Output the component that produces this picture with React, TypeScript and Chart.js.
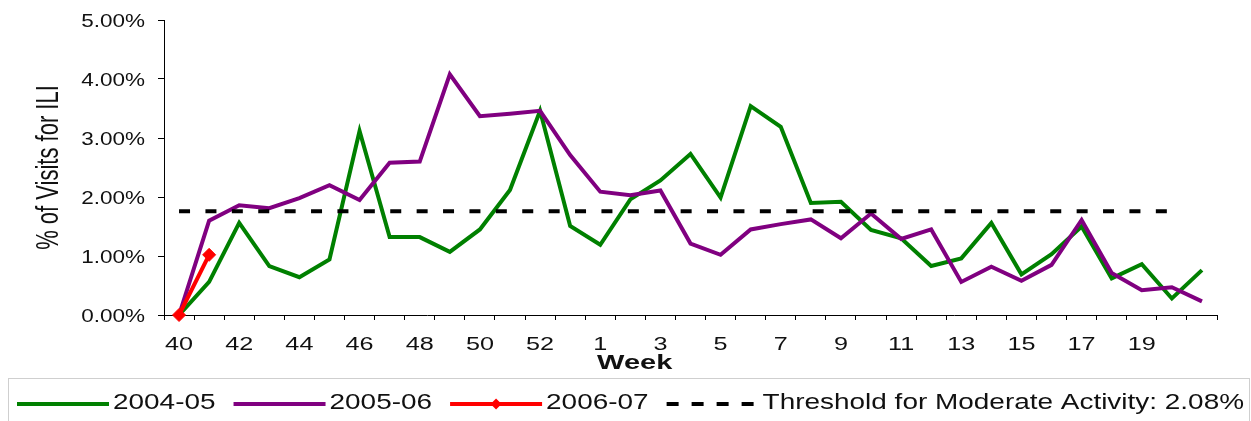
import React, { useEffect, useRef } from 'react';
import { Chart, registerables } from 'chart.js';

Chart.register(...registerables);

const FONT = '"Liberation Sans", Arial, Helvetica, sans-serif';
const TEXT_COLOR = '#111111';

// Week categories (2004 had a week 53)
const weeks = [
  '40', '41', '42', '43', '44', '45', '46', '47', '48', '49', '50', '51', '52', '53',
  '1', '2', '3', '4', '5', '6', '7', '8', '9', '10', '11', '12', '13', '14', '15', '16',
  '17', '18', '19', '20', '21',
];

// % of visits for ILI
const season2004 = [
  0.0, 0.56, 1.56, 0.83, 0.64, 0.94, 3.12, 1.32, 1.32, 1.07, 1.45, 2.12, 3.46, 1.51,
  1.19, 1.96, 2.28, 2.73, 1.99, 3.54, 3.19, 1.9, 1.92, 1.44, 1.3, 0.83, 0.96, 1.56, 0.69, 1.03,
  1.5, 0.62, 0.86, 0.28, 0.76,
];
const season2005 = [
  0.0, 1.6, 1.86, 1.81, 1.98, 2.2, 1.95, 2.58, 2.6, 4.08, 3.37, 3.41, 3.46, 2.71,
  2.09, 2.03, 2.11, 1.21, 1.02, 1.45, 1.54, 1.62, 1.3, 1.72, 1.29, 1.45, 0.56, 0.82, 0.58, 0.85,
  1.61, 0.71, 0.42, 0.47, 0.23,
];
const season2006 = [0.0, 1.02];

const THRESHOLD = 1.76;
const THRESHOLD_LAST_WEEK = '20';

const seriesLabels = ['2004-05', '2005-06', '2006-07', 'Threshold for Moderate Activity: 2.08%'];
const seriesColors = ['#008000', '#800080', '#ff0000', '#000000'];

const yTitle = '% of Visits for ILI';
const xTitle = 'Week';
const Y_MIN = 0;
const Y_MAX = 5;
const Y_STEP = 1;

const thresholdEnd = weeks.indexOf(THRESHOLD_LAST_WEEK);
const thresholdData = weeks.map((_, i) => (i <= thresholdEnd ? THRESHOLD : null));

function stretchedText(
  ctx: CanvasRenderingContext2D,
  text: string,
  x: number,
  y: number,
  sx: number,
  align: CanvasTextAlign,
) {
  ctx.save();
  ctx.translate(x, y);
  ctx.scale(sx, 1);
  ctx.textAlign = align;
  ctx.textBaseline = 'alphabetic';
  ctx.fillText(text, 0, 0);
  ctx.restore();
}

const textPlugin = {
  id: 'customText',
  afterDraw(chart: any) {
    const ctx: CanvasRenderingContext2D = chart.ctx;
    const xs = chart.scales.x;
    const ys = chart.scales.y;
    const area = chart.chartArea;
    ctx.save();
    ctx.fillStyle = TEXT_COLOR;

    // y tick labels
    ctx.font = `18px ${FONT}`;
    ys.ticks.forEach((t: any) => {
      const py = ys.getPixelForValue(t.value);
      stretchedText(ctx, `${Number(t.value).toFixed(2)}%`, area.left - 19, py + 6.5, 1.25, 'right');
    });

    // x tick labels (every other week; the last one is not shown)
    ctx.font = `18px ${FONT}`;
    weeks.forEach((w, i) => {
      if (i % 2 !== 0 || i === weeks.length - 1) return;
      stretchedText(ctx, w, xs.getPixelForValue(i), area.bottom + 35, 1.4, 'center');
    });

    // x title
    ctx.font = `bold 20px ${FONT}`;
    stretchedText(ctx, xTitle, area.left + (area.right - area.left) * 0.447, area.bottom + 54, 1.45, 'center');

    // y title (rotated)
    ctx.save();
    ctx.translate(58, (area.top + area.bottom) / 2);
    ctx.rotate(-Math.PI / 2);
    ctx.scale(1, 1.4);
    ctx.font = `22px ${FONT}`;
    ctx.textAlign = 'center';
    ctx.textBaseline = 'alphabetic';
    ctx.fillText(yTitle, 0, 0);
    ctx.restore();

    // legend box
    const boxTop = area.bottom + 63;
    ctx.strokeStyle = '#cfcfcf';
    ctx.lineWidth = 1;
    ctx.strokeRect(8.5, boxTop + 0.5, chart.width - 10, 80);

    const cy = boxTop + 26;
    let lx = 17;
    const lineLen = 92;
    ctx.font = `22px ${FONT}`;
    chart.data.datasets.forEach((ds: any) => {
      ctx.save();
      ctx.strokeStyle = ds.borderColor;
      ctx.lineWidth = 4;
      ctx.lineCap = 'butt';
      ctx.setLineDash(ds.borderDash ? [12, 13] : []);
      ctx.beginPath();
      ctx.moveTo(lx, cy);
      ctx.lineTo(lx + lineLen, cy);
      ctx.stroke();
      ctx.setLineDash([]);
      if (ds.pointStyle === 'rectRot') {
        const mx = lx + lineLen / 2;
        const r = 5.5;
        ctx.fillStyle = ds.borderColor;
        ctx.beginPath();
        ctx.moveTo(mx, cy - r);
        ctx.lineTo(mx + r, cy);
        ctx.lineTo(mx, cy + r);
        ctx.lineTo(mx - r, cy);
        ctx.closePath();
        ctx.fill();
      }
      ctx.restore();
      ctx.fillStyle = TEXT_COLOR;
      const tx = lx + lineLen + 4;
      const sx = 1.27;
      stretchedText(ctx, ds.label, tx, cy + 5, sx, 'left');
      lx = tx + ctx.measureText(ds.label).width * sx + 18;
    });

    ctx.restore();
  },
};

export default function App() {
  const ref = useRef<HTMLCanvasElement>(null);

  useEffect(() => {
    document.body.style.margin = '0';
    const canvas = ref.current;
    if (!canvas) return;
    const chart = new Chart(canvas, {
      type: 'line',
      data: {
        labels: weeks,
        datasets: [
          {
            label: seriesLabels[0],
            data: season2004,
            borderColor: seriesColors[0],
            backgroundColor: seriesColors[0],
            borderWidth: 4,
            pointRadius: 0,
            tension: 0,
            order: 3,
          },
          {
            label: seriesLabels[1],
            data: season2005,
            borderColor: seriesColors[1],
            backgroundColor: seriesColors[1],
            borderWidth: 4,
            pointRadius: 0,
            tension: 0,
            order: 2,
          },
          {
            label: seriesLabels[2],
            data: season2006,
            borderColor: seriesColors[2],
            backgroundColor: seriesColors[2],
            pointBackgroundColor: seriesColors[2],
            pointBorderColor: seriesColors[2],
            borderWidth: 4,
            pointRadius: 6.5,
            pointBorderWidth: 1,
            pointStyle: 'rectRot',
            tension: 0,
            clip: false,
            order: 0,
          } as any,
          {
            label: seriesLabels[3],
            data: thresholdData,
            borderColor: seriesColors[3],
            backgroundColor: seriesColors[3],
            borderWidth: 4,
            borderDash: [11, 15.4],
            borderCapStyle: 'butt',
            pointRadius: 0,
            tension: 0,
            order: 1,
          },
        ],
      },
      options: {
        responsive: false,
        animation: false,
        devicePixelRatio: 1,
        events: [],
        layout: { padding: { top: 20, right: 34, left: 0, bottom: 0 } },
        plugins: {
          legend: { display: false },
          tooltip: { enabled: false },
          title: { display: false },
        },
        scales: {
          x: {
            type: 'category',
            offset: true,
            grid: {
              offset: true,
              drawOnChartArea: false,
              drawTicks: true,
              tickLength: 5,
              color: '#000',
              tickColor: '#000',
            },
            border: { display: true, color: '#000', width: 1 },
            ticks: { display: false, autoSkip: false },
            afterFit: (s: any) => {
              s.height = 106;
            },
          },
          y: {
            min: Y_MIN,
            max: Y_MAX,
            grid: {
              drawOnChartArea: false,
              drawTicks: true,
              tickLength: 6,
              color: '#000',
              tickColor: '#000',
            },
            border: { display: true, color: '#000', width: 1 },
            ticks: { stepSize: Y_STEP, display: false },
            afterFit: (s: any) => {
              s.width = 164;
            },
          },
        },
      },
      plugins: [textPlugin],
    });
    return () => chart.destroy();
  }, []);

  return <canvas ref={ref} width={1251} height={421} style={{ display: 'block' }} />;
}
